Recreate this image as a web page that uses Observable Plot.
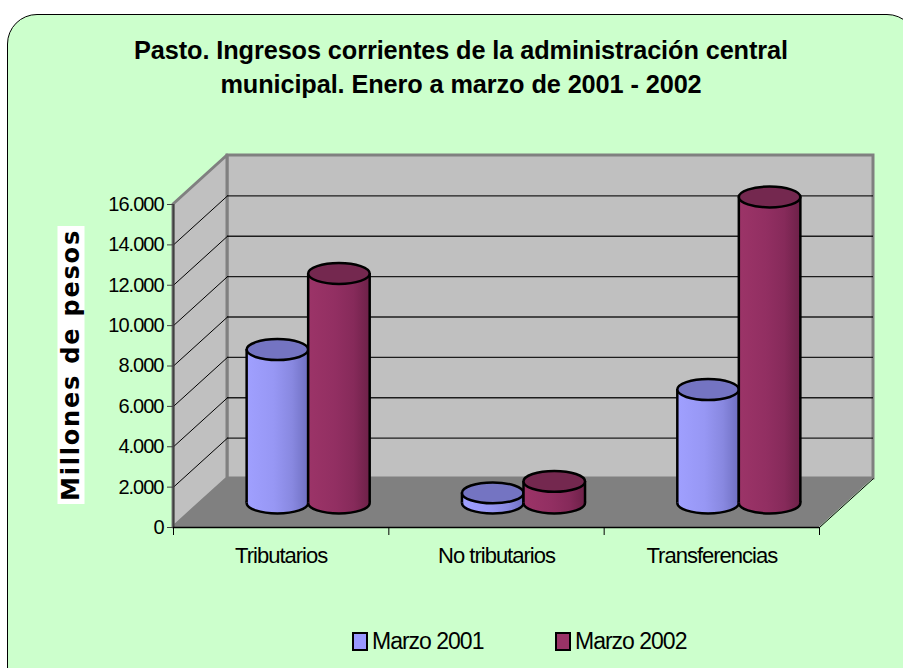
<!DOCTYPE html>
<html>
<head>
<meta charset="utf-8">
<script src="https://cdn.jsdelivr.net/npm/d3@7"></script>
<script src="https://cdn.jsdelivr.net/npm/@observablehq/plot@0.6"></script>
<style>
  html, body { margin: 0; padding: 0; background: #fff; }
  body { width: 903px; height: 668px; overflow: hidden; position: relative; font-family: "Liberation Sans", Arial, sans-serif; }
  #panel { position: absolute; left: 7px; top: 14px; width: 910px; height: 690px; background: #ccffcc; border: 1.5px solid #000; border-radius: 30px; box-sizing: border-box; }
  #chart { position: absolute; left: 0; top: 0; }
  #title { position: absolute; left: 0; top: 33px; width: 922px; text-align: center; font-weight: bold; font-size: 25.3px; letter-spacing: -0.1px; line-height: 34px; color: #000; }
  #ylabel { position: absolute; left: 71px; top: 365px; transform: translate(-50%, -50%) rotate(-90deg); background: #fff; font-family: "DejaVu Sans", sans-serif; font-weight: bold; font-size: 24px; letter-spacing: 1.8px; padding: 0 3px; line-height: 27px; white-space: nowrap; color: #000; }
  #legend { position: absolute; top: 628px; left: 0; width: 903px; font-size: 23px; letter-spacing: -1px; color: #000; }
  .item { position: absolute; top: 0; display: flex; align-items: center; height: 26px; }
  .sw { width: 12px; height: 15px; border: 2px solid #000; margin-right: 4px; }
  g[aria-label="y-axis tick label"] text { letter-spacing: -1px; }
  g[aria-label="x-axis tick label"] text { letter-spacing: -1px; }
</style>
</head>
<body>
<div id="panel"></div>
<div id="chart"></div>
<div id="title">Pasto. Ingresos corrientes de la administración central<br>municipal. Enero a marzo de 2001 - 2002</div>
<div id="ylabel">Millones de pesos</div>
<div id="legend"></div>
<script>
// ---- data ----
const categories = ["Tributarios", "No tributarios", "Transferencias"];
const seriesNames = ["Marzo 2001", "Marzo 2002"];
const values2001 = [7600, 500, 5620];
const values2002 = [11370, 1070, 15160];
const yTicks = [0, 2000, 4000, 6000, 8000, 10000, 12000, 14000, 16000];
const seriesColors = ["#9999ff", "#993366"];
const topColors = ["#7474c2", "#74284f"];

// ---- layout ----
const W = 903, H = 668;
const X0 = 173, X1 = 819, Y0 = 527, Y1 = 204;
const DEPTH_PX = [54, -49];
const yMax = 16000;
const nCat = categories.length;
const Dx = DEPTH_PX[0] * nCat / (X1 - X0);
const Dy = DEPTH_PX[1] * yMax / (Y1 - Y0);
const gapFrac = 0.75 / 3.5, barFrac = 1 / 3.5;
const barPx = (X1 - X0) / nCat * barFrac;

const seriesValues = [values2001, values2002];
const rows = categories.flatMap((c, i) => seriesValues.map((vals, s) => ({
  category: c, series: seriesNames[s], s, value: vals[i],
  xa: i + gapFrac + s * barFrac + Dx / 2,
  xb: i + gapFrac + (s + 1) * barFrac + Dx / 2,
  base: Dy / 2,
  top: vals[i] + Dy / 2
})));

const ellipse = {
  draw(ctx, size) {
    const rx = Math.sqrt(size / Math.PI), ry = rx * 0.34, k = 0.5523;
    ctx.moveTo(rx, 0);
    ctx.bezierCurveTo(rx, ry * k, rx * k, ry, 0, ry);
    ctx.bezierCurveTo(-rx * k, ry, -rx, ry * k, -rx, 0);
    ctx.bezierCurveTo(-rx, -ry * k, -rx * k, -ry, 0, -ry);
    ctx.bezierCurveTo(rx * k, -ry, rx, -ry * k, rx, 0);
    ctx.closePath();
  }
};

const fmt = d => d3.format(",")(d).replace(/,/g, ".");
const inner = yTicks.filter(t => t > 0 && t < yMax);

const barMarks = [0, 1].flatMap(s => {
  const d = rows.filter(r => r.s === s);
  const mid = r => (r.xa + r.xb) / 2;
  return [
    Plot.dot(d, {x: mid, y: "base", r: barPx / 2, symbol: ellipse, fill: `url(#grad${s})`, stroke: "#000", strokeWidth: 2.5}),
    Plot.rect(d, {x1: "xa", x2: "xb", y1: "base", y2: "top", fill: `url(#grad${s})`}),
    Plot.ruleX(d, {x: "xa", y1: "base", y2: "top", stroke: "#000", strokeWidth: 2.5}),
    Plot.ruleX(d, {x: "xb", y1: "base", y2: "top", stroke: "#000", strokeWidth: 2.5}),
    Plot.dot(d, {x: mid, y: "top", r: barPx / 2, symbol: ellipse, fill: topColors[s], stroke: "#000", strokeWidth: 2.5})
  ];
});

const chart = Plot.plot({
  width: W, height: H,
  marginLeft: X0, marginRight: W - X1, marginTop: Y1, marginBottom: H - Y0,
  style: {background: "transparent", fontFamily: "Liberation Sans, Arial, sans-serif", color: "#000", overflow: "visible"},
  x: {domain: [0, nCat], label: null},
  y: {domain: [0, yMax], label: null},
  marks: [
    // back wall
    Plot.rect([{}], {x1: Dx, x2: nCat + Dx, y1: Dy, y2: yMax + Dy, fill: "#c0c0c0", stroke: "#808080", strokeWidth: 3}),
    // side wall
    Plot.areaY([{x: 0, y1: 0, y2: yMax}, {x: Dx, y1: Dy, y2: yMax + Dy}], {x: "x", y1: "y1", y2: "y2", fill: "#c0c0c0", stroke: "#808080", strokeWidth: 3}),
    // grid on back wall
    Plot.ruleY(inner, {y: d => d + Dy, x1: Dx, x2: nCat + Dx, stroke: "#000", strokeWidth: 1.3, strokeOpacity: 0.85}),
    // grid on side wall
    Plot.link(inner, {x1: 0, y1: d => d, x2: Dx, y2: d => d + Dy, stroke: "#000", strokeWidth: 1}),
    // floor
    Plot.areaX([{y: 0, x1: 0, x2: nCat}, {y: Dy, x1: Dx, x2: nCat + Dx}], {y: "y", x1: "x1", x2: "x2", fill: "#808080"}),
    Plot.link([0], {x1: nCat, y1: 0, x2: nCat + Dx, y2: Dy, stroke: "#000", strokeWidth: 1}),
    // axes lines
    Plot.ruleX([0], {y1: 0, y2: yMax, stroke: "#404040", strokeWidth: 2}),
    Plot.ruleY([0], {x1: 0, x2: nCat, stroke: "#000", strokeWidth: 1.5}),
    Plot.axisY(yTicks, {tickSize: 6, tickPadding: 4, tickFormat: fmt, fontSize: 20, label: null, stroke: "#404040"}),
    Plot.axisX(d3.range(nCat + 1), {tickSize: 8, tickFormat: () => "", label: null}),
    Plot.axisX(categories.map((c, i) => i + 0.5), {tickSize: 0, tickPadding: 20, tickFormat: d => categories[Math.floor(d)], fontSize: 22, label: null}),
    ...barMarks
  ]
});

const defs = document.createElementNS("http://www.w3.org/2000/svg", "defs");
defs.innerHTML = `
<linearGradient id="grad0" x1="0" x2="1" y1="0" y2="0">
  <stop offset="0" stop-color="#a0a0ff"/><stop offset="0.45" stop-color="#9797f4"/>
  <stop offset="0.75" stop-color="#8888e0"/><stop offset="1" stop-color="#7070c2"/>
</linearGradient>
<linearGradient id="grad1" x1="0" x2="1" y1="0" y2="0">
  <stop offset="0" stop-color="#9c3468"/><stop offset="0.45" stop-color="#922f62"/>
  <stop offset="0.75" stop-color="#862a5a"/><stop offset="1" stop-color="#6e2149"/>
</linearGradient>`;
chart.insertBefore(defs, chart.firstChild);
document.getElementById("chart").appendChild(chart);

// legend
const legend = document.getElementById("legend");
const legendX = [352, 555];
seriesNames.forEach((name, s) => {
  const item = document.createElement("div");
  item.className = "item";
  item.style.left = legendX[s] + "px";
  item.innerHTML = `<span class="sw" style="background:${seriesColors[s]}"></span><span>${name}</span>`;
  legend.appendChild(item);
});
</script>
</body>
</html>
